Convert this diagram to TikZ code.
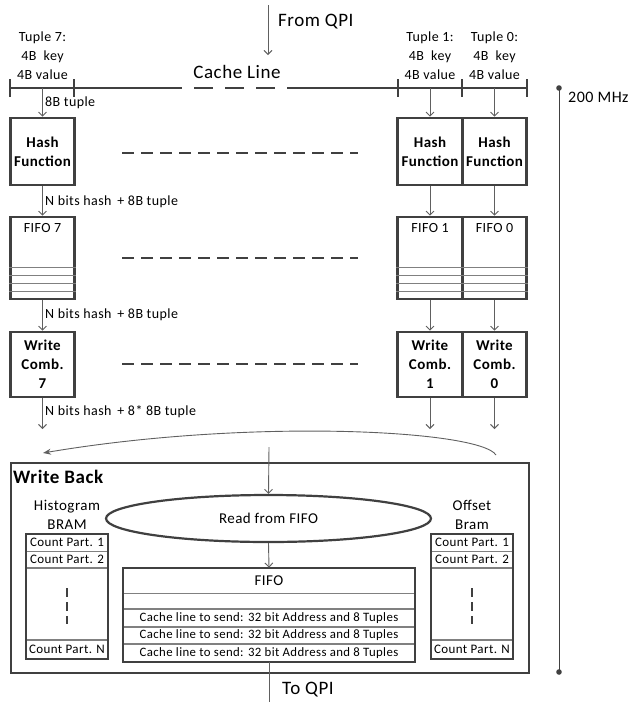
\documentclass[tikz,border=0pt]{standalone}
\usepackage{fontspec}
\setmainfont{Carlito}[LetterSpace=3]
\usepackage{tikz}
\usetikzlibrary{arrows.meta,positioning,shapes.geometric}
\definecolor{boxline}{RGB}{64,64,64}
\definecolor{flowline}{RGB}{96,96,96}
\definecolor{rowline}{RGB}{128,128,128}
\tikzset{
  unit/.style={draw=boxline,line width=2.6pt,minimum width=64.5pt,inner sep=0pt,align=center,font=\fontsize{15}{19}\selectfont\bfseries},
  flow/.style={draw=flowline,line width=0.9pt,-{Straight Barb[length=4pt,width=8pt]}},
  gapline/.style={draw=boxline,line width=2.6pt,dash pattern=on 12pt off 7pt},
  lbl/.style={font=\fontsize{14}{19}\selectfont,inner sep=0pt},
  big/.style={font=\fontsize{19}{22}\selectfont,inner sep=0pt},
  row/.style={draw=rowline,line width=0.8pt,inner sep=0pt,font=\fontsize{13}{15}\selectfont},
}

\begin{document}
\begin{tikzpicture}[x=1pt,y=-1pt]
  \useasboundingbox (0,0) rectangle (630,702);
  \coordinate (qpi) at (268,5); \coordinate (clin) at (268,55);
  \draw[flow] (qpi) -- (clin);
  \node[big,anchor=west] (fromlbl) at (278,22) {From QPI};
  \node[big] (cachelbl) at (237,72) {Cache Line};
  \draw[boxline,line width=2.4pt] (10,88) -- (163,88) (302,88) -- (527,88);
  \draw[boxline,line width=2.4pt,dash pattern=on 19pt off 12pt] (163,88) -- (302,88);
  \foreach \x in {10,74,398,462,527} \draw[boxline,line width=1.8pt] (\x,79) -- (\x,97);
  \foreach \n/\x in {7/42.5,1/430,0/494.5} {
    \node[lbl,align=center] (tup\n) at (\x,56) {Tuple \n:\\4B\ \ key\\4B value};
    \coordinate (in\n) at (\x,88);
    \node[unit,minimum height=67pt] (hash\n) at (\x,151.5) {Hash\\Function};
    \node[unit,minimum height=82pt,label={[lbl,anchor=north,yshift=-8pt]north:FIFO \n}] (fifo\n) at (\x,258) {};
    \foreach \y in {267,275,283,291} \draw[rowline,line width=0.8pt] (fifo\n.west |- 0,\y) -- (fifo\n.east |- 0,\y);
    \node[unit,minimum height=65pt] (wc\n) at (\x,364.5) {Write\\Comb.\\\n};
    \coordinate (out\n) at (\x,429);
    \draw[flow] (in\n) -- (hash\n.north);
    \draw[flow] (hash\n.south) -- (fifo\n.north);
    \draw[flow] (fifo\n.south) -- (wc\n.north);
    \draw[flow] (wc\n.south) -- (out\n);
  }
  \node[lbl,anchor=west] (tuplbl) at (45,103) {8B tuple};
  \node[lbl,anchor=west] (hashlbl) at (45,202) {N bits hash\, + 8B tuple};
  \node[lbl,anchor=west] (fifolbl) at (45,315) {N bits hash\, + 8B tuple};
  \node[lbl,anchor=west] (wclbl) at (45,412) {N bits hash\, + 8* 8B tuple};
  \foreach \y in {153,258,364} \draw[gapline] (122,\y) -- (358,\y);
  \coordinate (fanR) at (496,455); \coordinate (fanL) at (43,453);
  \draw[flowline,line width=0.9pt,-{Stealth[length=8pt,width=6pt]}] (fanR) .. controls (480,430) and (250,418) .. (fanL);
  \node[draw=boxline,line width=2.6pt,minimum width=518pt,minimum height=210pt] (wb) at (270,568) {};
  \node[big,anchor=west,font=\fontsize{19}{22}\selectfont\bfseries] (wbtitle) at (13,477) {Write Back};
  \node[draw=boxline,line width=2.2pt,ellipse,minimum width=325pt,minimum height=47pt,inner sep=0pt,font=\fontsize{15}{18}\selectfont] (rd) at (268.5,518.5) {Read from FIFO};
  \coordinate (rdin) at (269,447);
  \draw[flow] (rdin) -- (rd.north);
  \foreach \bank/\x/\t in {hist/67/{Histogram\\BRAM},offs/472/{Offset\\Bram}} {
    \node[lbl,align=center,font=\fontsize{15}{19}\selectfont] (\bank lbl) at (\x,515) {\t};
    \node[row,minimum width=81pt,minimum height=17pt] (\bank1) at (\x,542.5) {Count Part. 1};
    \node[row,minimum width=81pt,minimum height=16pt,below=0pt of \bank1] (\bank2) {Count Part. 2};
    \node[row,minimum width=81pt,minimum height=71pt,below=0pt of \bank2] (\bank3) {};
    \node[row,minimum width=81pt,minimum height=18pt,below=0pt of \bank3] (\bank N) {Count Part. N};
    \draw[boxline,line width=2pt] (\bank1.north west) rectangle (\bank N.south east);
    \draw[boxline,line width=2pt,dash pattern=on 9pt off 5pt] (\bank3.north) ++(0,20) -- ++(0,36);
  }
  \node[row,minimum width=292pt,minimum height=25pt,font=\fontsize{15}{18}\selectfont] (wbq) at (269,580.5) {FIFO};
  \node[row,minimum width=292pt,minimum height=15pt,below=0pt of wbq] (wbq0) {};
  \foreach \k/\p in {1/wbq0,2/wbq1,3/wbq2} \node[row,minimum width=292pt,minimum height=16.7pt,below=0pt of \p,font=\fontsize{12.8}{14}\selectfont] (wbq\k) {Cache line to send: 32 bit Address and 8 Tuples};
  \draw[boxline,line width=2pt] (wbq.north west) rectangle (wbq3.south east);
  \draw[flow] (rd.south) -- (wbq.north);
  \coordinate (toqpi) at (269,702);
  \draw[flowline,line width=0.9pt] (wbq3.south) -- (toqpi);
  \node[big,anchor=west] (tolbl) at (282,690) {To QPI};
  \coordinate (clkT) at (559,88); \coordinate (clkB) at (559,672);
  \draw[boxline,line width=1pt] (clkT) -- (clkB);
  \fill[boxline] (clkT) circle (2.8pt) (clkB) circle (2.8pt);
  \node[lbl,anchor=west,font=\fontsize{16}{19}\selectfont] (clklbl) at (568,97) {200 MHz};
\end{tikzpicture}
\end{document}
